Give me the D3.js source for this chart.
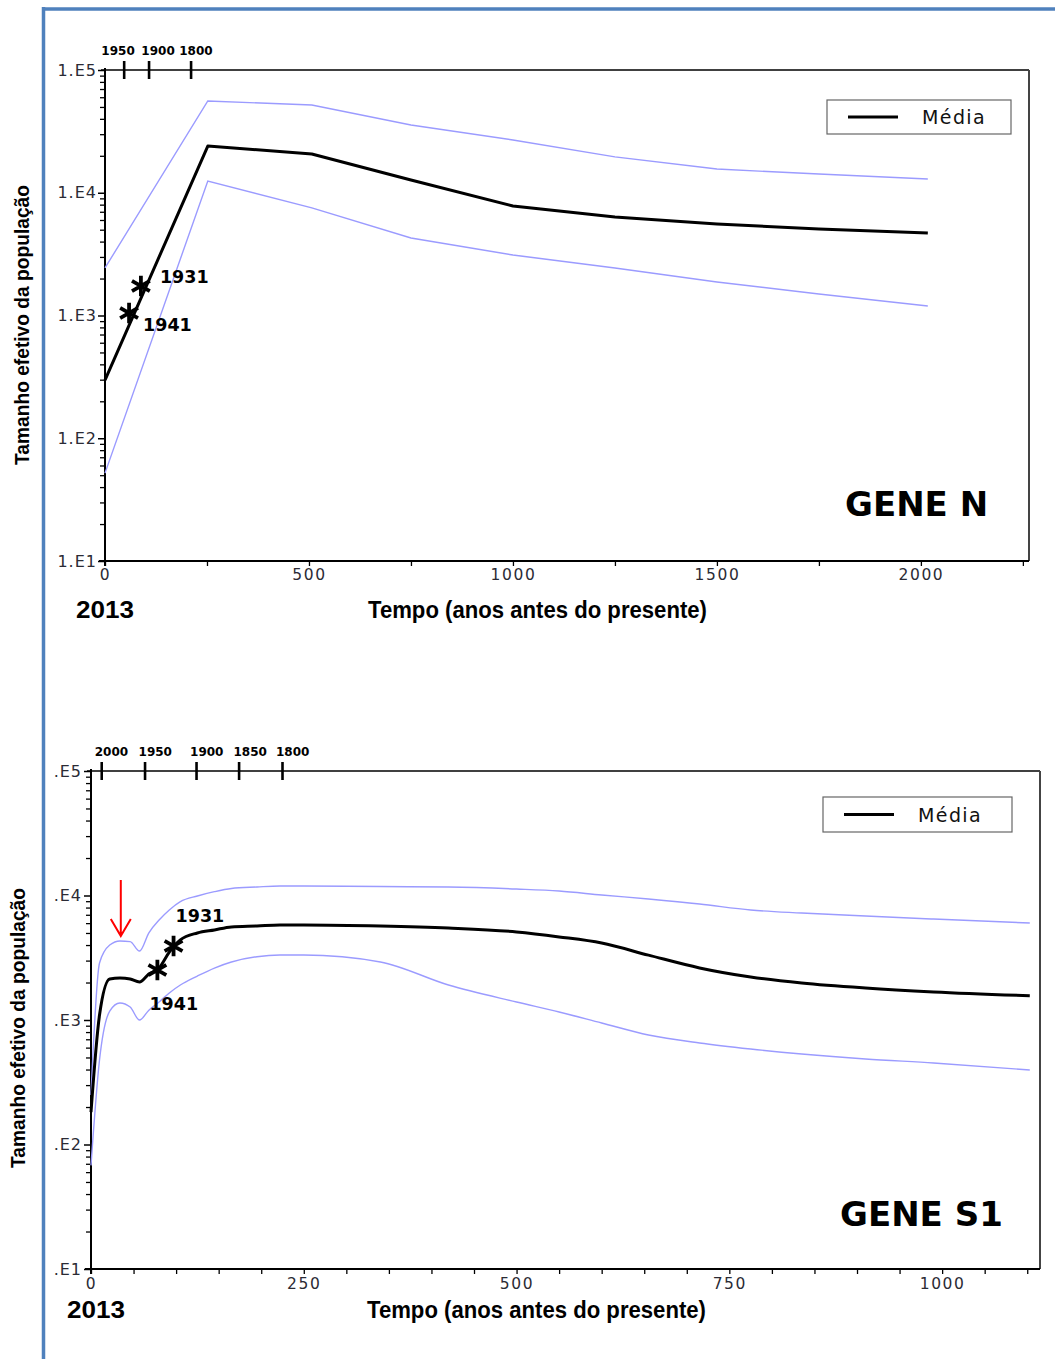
<!DOCTYPE html>
<html>
<head>
<meta charset="utf-8">
<script src="https://cdn.jsdelivr.net/npm/d3@7"></script>
<style>
  body { margin: 0; background: #fff; }
  svg { display: block; }
  text { font-family: "DejaVu Sans", Verdana, sans-serif; }
  .cal { font-family: "Liberation Sans Narrow", "Liberation Sans", Arial, sans-serif; font-weight: bold; }
</style>
</head>
<body>
<svg width="1055" height="1359"></svg>
<script>
// GENE N (upper panel)
const geneNTime = [0, 252, 507, 750, 1000, 1250, 1500, 1750, 2017];
const geneNMean = [298, 24000, 20700, 12700, 7800, 6340, 5560, 5070, 4700];
const geneNUpper = [2440, 55900, 51900, 35600, 26900, 19600, 15600, 14200, 12950];
const geneNLower = [52, 12470, 7520, 4280, 3110, 2440, 1875, 1496, 1195];
const geneNYearLabels = ["1950", "1900", "1800"];
const geneNYearTicks = [47, 108, 211];
const geneNYearLabelAt = [32, 130, 223];
const geneNStarLabels = ["1931", "1941"];
const geneNStarTime = [88, 59];
const geneNStarValue = [1740, 1047];
const geneNXTicks = [0, 500, 1000, 1500, 2000];
const geneNYLabels = ["1.E1", "1.E2", "1.E3", "1.E4", "1.E5"];

// GENE S1 (lower panel)
const geneS1Time = [0, 10, 22, 34, 46, 57, 68, 80, 92, 105, 125, 145, 165, 195, 222, 250,
  340, 420, 500, 550, 600, 655, 715, 775, 835, 910, 990, 1103];
const geneS1Mean = [182, 1096, 2135, 2173, 2135, 2020, 2340, 2618, 3515, 4400, 5000, 5290,
  5590, 5690, 5800, 5800, 5690, 5480, 5100, 4650, 4150, 3320, 2620, 2215, 1980, 1805, 1680, 1567];
const geneS1Upper = [250, 2870, 4000, 4315, 4260, 3580, 5020, 6350, 7650, 8920, 9910, 10730,
  11380, 11700, 11920, 11920, 11800, 11700, 11270, 10860, 10090, 9370, 8550, 7650, 7230, 6840, 6470, 6010];
const geneS1Lower = [68, 477, 1180, 1370, 1270, 1000, 1200, 1395, 1650, 1910, 2255, 2615,
  2925, 3225, 3325, 3325, 2925, 1910, 1395, 1160, 946, 758, 654, 585, 533, 486, 452, 397];
const geneS1YearLabels = ["2000", "1950", "1900", "1850", "1800"];
const geneS1YearTicks = [12.6, 63.5, 124, 174, 225];
const geneS1YearLabelAt = [24, 75.5, 136, 187, 237];
const geneS1StarLabels = ["1931", "1941"];
const geneS1StarTime = [97, 78];
const geneS1StarValue = [3930, 2520];
const geneS1Arrow = { time: 35, from: 13340, to: 4730 };
const geneS1XTicks = [0, 250, 500, 750, 1000];
const geneS1YLabels = [".E1", ".E2", ".E3", ".E4", ".E5"];

const decades = [10, 100, 1000, 10000, 100000];
const BLUE = "#9b9bff";

const svg = d3.select("svg");

function drawPanel(p) {
  const g = svg.append("g");
  const x = d3.scaleLinear().domain([0, p.xMax]).range([p.left, p.right]);
  const y = d3.scaleLog().domain([10, 1e5]).range([p.bottom, p.top]);

  // frame: top line and right border
  g.append("line")
    .attr("x1", p.left - 4).attr("x2", p.right)
    .attr("y1", p.top).attr("y2", p.top)
    .attr("stroke", "#000").attr("stroke-width", 1.6);
  g.append("line")
    .attr("x1", p.right).attr("x2", p.right)
    .attr("y1", p.top).attr("y2", p.bottom)
    .attr("stroke", "#444").attr("stroke-width", 2);

  // minor log ticks
  const minor = [];
  decades.slice(0, 4).forEach(d => { for (let k = 2; k <= 9; k++) minor.push(d * k); });
  g.append("g")
    .attr("transform", `translate(${p.left},0)`)
    .call(d3.axisLeft(y).tickValues(minor).tickSize(5).tickFormat(""))
    .call(a => a.select(".domain").remove())
    .call(a => a.selectAll("line").attr("stroke-width", 1.3));

  // major y ticks + labels
  g.append("g")
    .attr("transform", `translate(${p.left},0)`)
    .call(d3.axisLeft(y).tickValues(decades).tickSize(7).tickPadding(p.yPad)
      .tickFormat((d, i) => p.yLabels[i]))
    .call(a => a.select(".domain").remove())
    .call(a => a.selectAll("line").attr("stroke-width", 1.5))
    .call(a => a.selectAll("text")
      .attr("font-size", 16).attr("letter-spacing", 1).attr("fill", "#2b2b35")
      .attr("font-family", "DejaVu Sans, Verdana, sans-serif"));

  // x axis ticks + labels
  g.append("g")
    .attr("transform", `translate(0,${p.bottom})`)
    .call(d3.axisBottom(x).tickValues(d3.range(0, p.xMax, p.xStep)).tickSize(5).tickPadding(p.xPad)
      .tickFormat(d => p.xTicks.includes(d) ? d : ""))
    .call(a => a.select(".domain").remove())
    .call(a => a.selectAll("line").attr("stroke-width", 1.3))
    .call(a => a.selectAll("text")
      .attr("font-size", 15.5).attr("letter-spacing", 1.6).attr("fill", "#2b2b35")
      .attr("font-family", "DejaVu Sans, Verdana, sans-serif"));

  // axis lines
  g.append("line")
    .attr("x1", p.left).attr("x2", p.left)
    .attr("y1", p.top - 2).attr("y2", p.bottom + 5)
    .attr("stroke", "#000").attr("stroke-width", 2);
  g.append("line")
    .attr("x1", p.left - 6).attr("x2", p.right)
    .attr("y1", p.bottom).attr("y2", p.bottom)
    .attr("stroke", "#000").attr("stroke-width", 2);

  // calendar-year ticks on the top edge
  g.selectAll(".yrtick").data(p.yearTicks).join("line")
    .attr("x1", d => x(d)).attr("x2", d => x(d))
    .attr("y1", p.top - 9).attr("y2", p.top + 9)
    .attr("stroke", "#000").attr("stroke-width", 2.6);
  g.selectAll(".yrlab").data(p.yearLabels).join("text")
    .attr("x", (d, i) => x(p.yearLabelAt[i]))
    .attr("y", p.top - 15)
    .attr("text-anchor", "middle")
    .attr("font-size", 12).attr("font-weight", "bold")
    .text(d => d);

  // series
  const line = vals => d3.line()
    .curve(p.curve)
    .x((d, i) => x(p.time[i]))
    .y(d => y(d))(vals);
  g.append("path").attr("d", line(p.upper))
    .attr("fill", "none").attr("stroke", BLUE).attr("stroke-width", 1.4);
  g.append("path").attr("d", line(p.lower))
    .attr("fill", "none").attr("stroke", BLUE).attr("stroke-width", 1.4);
  g.append("path").attr("d", line(p.mean))
    .attr("fill", "none").attr("stroke", "#000").attr("stroke-width", 3)
    .attr("stroke-linejoin", "round");

  // asterisks marking 1931 / 1941
  const star = d3.symbol().type(d3.symbolAsterisk).size(300);
  p.starLabels.forEach((lab, i) => {
    const sx = x(p.starTime[i]), sy = y(p.starValue[i]);
    g.append("path").attr("d", star())
      .attr("transform", `translate(${sx},${sy})`)
      .attr("fill", "none").attr("stroke", "#000").attr("stroke-width", 3.8);
    g.append("text")
      .attr("x", sx + p.starDx[i]).attr("y", sy + p.starDy[i])
      .attr("font-size", 17.5).attr("font-weight", "bold")
      .text(lab);
  });

  // legend
  g.append("rect")
    .attr("x", p.legend[0]).attr("y", p.legend[1])
    .attr("width", p.legend[2]).attr("height", p.legend[3])
    .attr("fill", "#fff").attr("stroke", "#666").attr("stroke-width", 1.2);
  const ly = p.legend[1] + p.legend[3] / 2;
  g.append("line")
    .attr("x1", p.legend[0] + 21).attr("x2", p.legend[0] + 71)
    .attr("y1", ly).attr("y2", ly)
    .attr("stroke", "#000").attr("stroke-width", 3);
  g.append("text")
    .attr("x", p.legend[0] + 95).attr("y", ly + 7)
    .attr("font-size", 19).attr("letter-spacing", 1.4).attr("fill", "#111")
    .text("Média");

  // gene name
  g.append("text")
    .attr("x", p.geneX).attr("y", p.geneY)
    .attr("font-size", 34).attr("font-weight", "bold")
    .text(p.gene);

  // axis titles
  g.append("text").attr("class", "cal")
    .attr("x", p.yearX).attr("y", p.titleY)
    .attr("font-size", 24).attr("textLength", 58).attr("lengthAdjust", "spacingAndGlyphs")
    .text("2013");
  g.append("text").attr("class", "cal")
    .attr("x", p.titleX).attr("y", p.titleY)
    .attr("font-size", 23).attr("textLength", 339).attr("lengthAdjust", "spacingAndGlyphs")
    .text("Tempo (anos antes do presente)");
  g.append("text").attr("class", "cal")
    .attr("transform", `translate(${p.yTitleX},${p.yTitleY}) rotate(-90)`)
    .attr("text-anchor", "middle")
    .attr("font-size", 21).attr("textLength", 280).attr("lengthAdjust", "spacingAndGlyphs")
    .text("Tamanho efetivo da população");

  return { x, y, g };
}

drawPanel({
  left: 105, right: 1029, top: 70, bottom: 561, xMax: 2265, xStep: 250, xPad: 3,
  xTicks: geneNXTicks, yLabels: geneNYLabels, yPad: 1, curve: d3.curveLinear,
  time: geneNTime, mean: geneNMean, upper: geneNUpper, lower: geneNLower,
  yearTicks: geneNYearTicks, yearLabels: geneNYearLabels, yearLabelAt: geneNYearLabelAt,
  starLabels: geneNStarLabels, starTime: geneNStarTime, starValue: geneNStarValue,
  starDx: [19, 14], starDy: [-3, 18],
  legend: [827, 100, 184, 34],
  gene: "GENE N", geneX: 845, geneY: 516,
  yearX: 76, titleX: 368, titleY: 618, yTitleX: 29, yTitleY: 325
});

const s1 = drawPanel({
  left: 91, right: 1040, top: 771, bottom: 1269, xMax: 1115, xStep: 50, xPad: 4,
  xTicks: geneS1XTicks, yLabels: geneS1YLabels, yPad: 2, curve: d3.curveMonotoneX,
  time: geneS1Time, mean: geneS1Mean, upper: geneS1Upper, lower: geneS1Lower,
  yearTicks: geneS1YearTicks, yearLabels: geneS1YearLabels, yearLabelAt: geneS1YearLabelAt,
  starLabels: geneS1StarLabels, starTime: geneS1StarTime, starValue: geneS1StarValue,
  starDx: [2, -8], starDy: [-24, 40],
  legend: [823, 797, 189, 35],
  gene: "GENE S1", geneX: 840, geneY: 1226,
  yearX: 67, titleX: 367, titleY: 1318, yTitleX: 25, yTitleY: 1028
});

// red arrow pointing at the early dip in GENE S1
const ax = s1.x(geneS1Arrow.time);
const ay0 = s1.y(geneS1Arrow.from), ay1 = s1.y(geneS1Arrow.to);
s1.g.append("path")
  .attr("d", `M${ax},${ay0}L${ax},${ay1}M${ax - 10},${ay1 - 17}L${ax},${ay1}L${ax + 10},${ay1 - 17}`)
  .attr("fill", "none").attr("stroke", "#ff0000").attr("stroke-width", 2);

// slide frame (blue)
svg.append("line").attr("x1", 43.5).attr("x2", 43.5).attr("y1", 7).attr("y2", 1359)
  .attr("stroke", "#4f81bd").attr("stroke-width", 3.5);
svg.append("line").attr("x1", 42).attr("x2", 1055).attr("y1", 9).attr("y2", 9)
  .attr("stroke", "#4f81bd").attr("stroke-width", 3.5);
</script>
</body>
</html>
